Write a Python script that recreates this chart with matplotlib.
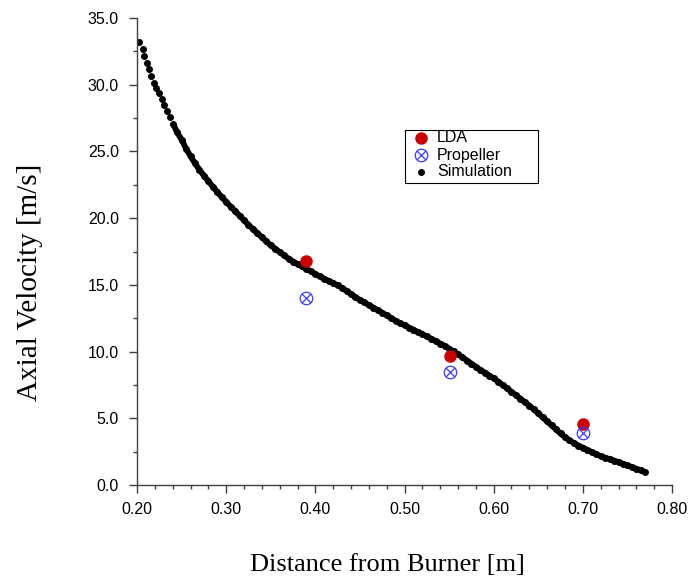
import matplotlib
matplotlib.use("Agg")
import matplotlib.pyplot as plt
import matplotlib.path as mpath
from matplotlib.lines import Line2D
from matplotlib.patches import Rectangle
from matplotlib.ticker import MultipleLocator, FormatStrFormatter

# ---- data ----
lda_x = [0.39, 0.551, 0.70]
lda_y = [16.8, 9.65, 4.55]
prop_x = [0.39, 0.551, 0.70]
prop_y = [14.05, 8.5, 3.92]

sim_x = [0.2026, 0.2064, 0.208, 0.211, 0.2138, 0.2157, 0.219, 0.2213, 0.225, 0.2277,
         0.2307, 0.2333, 0.237, 0.2408, 0.2446, 0.2502,
         0.255, 0.260, 0.265, 0.270, 0.275, 0.280, 0.285, 0.290, 0.295, 0.300,
         0.305, 0.310, 0.315, 0.320, 0.325, 0.330, 0.335, 0.340, 0.345, 0.350,
         0.355, 0.360, 0.365, 0.370, 0.375, 0.380, 0.385, 0.390, 0.395, 0.400,
         0.405, 0.410, 0.415, 0.420, 0.425, 0.430, 0.435, 0.440, 0.445, 0.450,
         0.455, 0.460, 0.465, 0.470, 0.475, 0.480, 0.485, 0.490, 0.495, 0.500,
         0.505, 0.510, 0.515, 0.520, 0.525, 0.530, 0.535, 0.540, 0.545, 0.550,
         0.555, 0.560, 0.565, 0.570, 0.575, 0.580, 0.585, 0.590, 0.595, 0.600,
         0.605, 0.610, 0.615, 0.620, 0.625, 0.630, 0.635, 0.640, 0.645, 0.650,
         0.655, 0.660, 0.665, 0.670, 0.675, 0.680, 0.685, 0.690, 0.695, 0.700,
         0.705, 0.710, 0.715, 0.720, 0.725, 0.730, 0.735, 0.740, 0.745, 0.750,
         0.755, 0.760, 0.765, 0.770]
sim_y = [33.2, 32.65, 32.15, 31.6, 31.15, 30.67, 30.15, 29.73, 29.36, 28.9,
         28.48, 28.05, 27.6, 27.03, 26.48, 25.86,
         25.21, 24.64, 24.11, 23.63, 23.19, 22.77, 22.36, 21.96, 21.59, 21.22,
         20.87, 20.53, 20.19, 19.84, 19.5, 19.18, 18.87, 18.57, 18.26, 17.96,
         17.71, 17.46, 17.21, 16.96, 16.75, 16.56, 16.38, 16.2, 16.01, 15.82,
         15.63, 15.46, 15.3, 15.13, 14.96, 14.77, 14.54, 14.31, 14.08, 13.87,
         13.68, 13.49, 13.3, 13.1, 12.91, 12.71, 12.51, 12.31, 12.13, 11.97,
         11.8, 11.64, 11.47, 11.3, 11.13, 10.96, 10.78, 10.6, 10.43, 10.23,
         10.01, 9.79, 9.57, 9.33, 9.1, 8.86, 8.63, 8.43, 8.2, 8.0,
         7.75, 7.5, 7.24, 6.98, 6.73, 6.47, 6.2, 5.95, 5.67, 5.37,
         5.07, 4.77, 4.47, 4.17, 3.86, 3.58, 3.35, 3.14, 2.96, 2.8,
         2.63, 2.47, 2.31, 2.17, 2.05, 1.94, 1.83, 1.71, 1.59, 1.47,
         1.35, 1.22, 1.1, 0.97]

x_ticks = [0.20, 0.30, 0.40, 0.50, 0.60, 0.70, 0.80]
y_ticks = [0.0, 5.0, 10.0, 15.0, 20.0, 25.0, 30.0, 35.0]
legend_labels = ['LDA', 'Propeller', 'Simulation']

LDA_C = '#cc0000'
PROP_C = '#3a3aff'

# ---- marker: circle with x ----
circ = mpath.Path.unit_circle()
d = 0.7071
l1 = mpath.Path([(-d, -d), (d, d)], [mpath.Path.MOVETO, mpath.Path.LINETO])
l2 = mpath.Path([(-d, d), (d, -d)], [mpath.Path.MOVETO, mpath.Path.LINETO])
otimes = mpath.Path.make_compound_path(circ, l1, l2)

W, H = 689, 581
fig = plt.figure(figsize=(6.89, 5.81), dpi=100)
ax = fig.add_axes([137/W, 1 - 485/H, (672-137)/W, (485-18)/H])

# simulation: dense dotted trace (dots merge into a thick line past the start)
n0 = 13
ax.plot(sim_x[n0:], sim_y[n0:], '-', lw=4.2, color='black', solid_capstyle='round',
        zorder=2)
ax.plot(sim_x, sim_y, linestyle='none', marker='o', ms=4.0, color='black', zorder=2)
ax.plot(lda_x, lda_y, linestyle='none', marker='o', ms=8, color=LDA_C,
        mec=LDA_C, zorder=3)
ax.plot(prop_x, prop_y, linestyle='none', marker=otimes, ms=9, mfc='none',
        mec=PROP_C, mew=0.9, zorder=4)

ax.set_xlim(0.20, 0.80)
ax.set_ylim(0.0, 35.0)
ax.set_xticks(x_ticks)
ax.set_yticks(y_ticks)
ax.xaxis.set_minor_locator(MultipleLocator(0.02))
ax.yaxis.set_minor_locator(MultipleLocator(2.5))
ax.xaxis.set_major_formatter(FormatStrFormatter('%.2f'))
ax.yaxis.set_major_formatter(FormatStrFormatter('%.1f'))

for s in ['top', 'right']:
    ax.spines[s].set_visible(False)
for s in ['left', 'bottom']:
    ax.spines[s].set_color('#404040')
    ax.spines[s].set_linewidth(1.0)

ax.tick_params(which='major', direction='out', length=6, width=1, color='#404040',
               labelsize=11.5)
ax.tick_params(axis='y', which='major', pad=7)
ax.tick_params(axis='x', which='major', pad=6)
ax.tick_params(which='minor', direction='out', length=3, width=1, color='#404040')
for lab in ax.get_xticklabels() + ax.get_yticklabels():
    lab.set_fontfamily('Liberation Sans')

fig.text(387/W, 1 - 565/H, 'Distance from Burner [m]', family='Liberation Serif',
         fontsize=19, ha='center', va='center')
fig.text(30/W, 1 - 282/H, 'Axial Velocity [m/s]', family='Liberation Serif',
         fontsize=21, ha='center', va='center', rotation=90)

# ---- legend box (drawn manually to match the original frame) ----
fig.patches.append(Rectangle((405/W, 1 - 183/H), (538-405)/W, (183-130)/H,
                             transform=fig.transFigure, facecolor='white',
                             edgecolor='black', lw=0.8, zorder=5))
rows_y = [138, 155, 172]
styles = [dict(marker='o', ms=8, color=LDA_C, mec=LDA_C),
          dict(marker=otimes, ms=9, mfc='none', mec=PROP_C, mew=0.9),
          dict(marker='o', ms=4.0, color='black')]
for lbl, yy, st in zip(legend_labels, rows_y, styles):
    fig.lines.append(Line2D([421/W], [1 - yy/H], transform=fig.transFigure,
                            linestyle='none', zorder=6, **st))
    fig.text(437/W, 1 - yy/H, lbl, family='Liberation Sans', fontsize=11.5,
             ha='left', va='center', zorder=6)

fig.savefig('out.png', dpi=100)
